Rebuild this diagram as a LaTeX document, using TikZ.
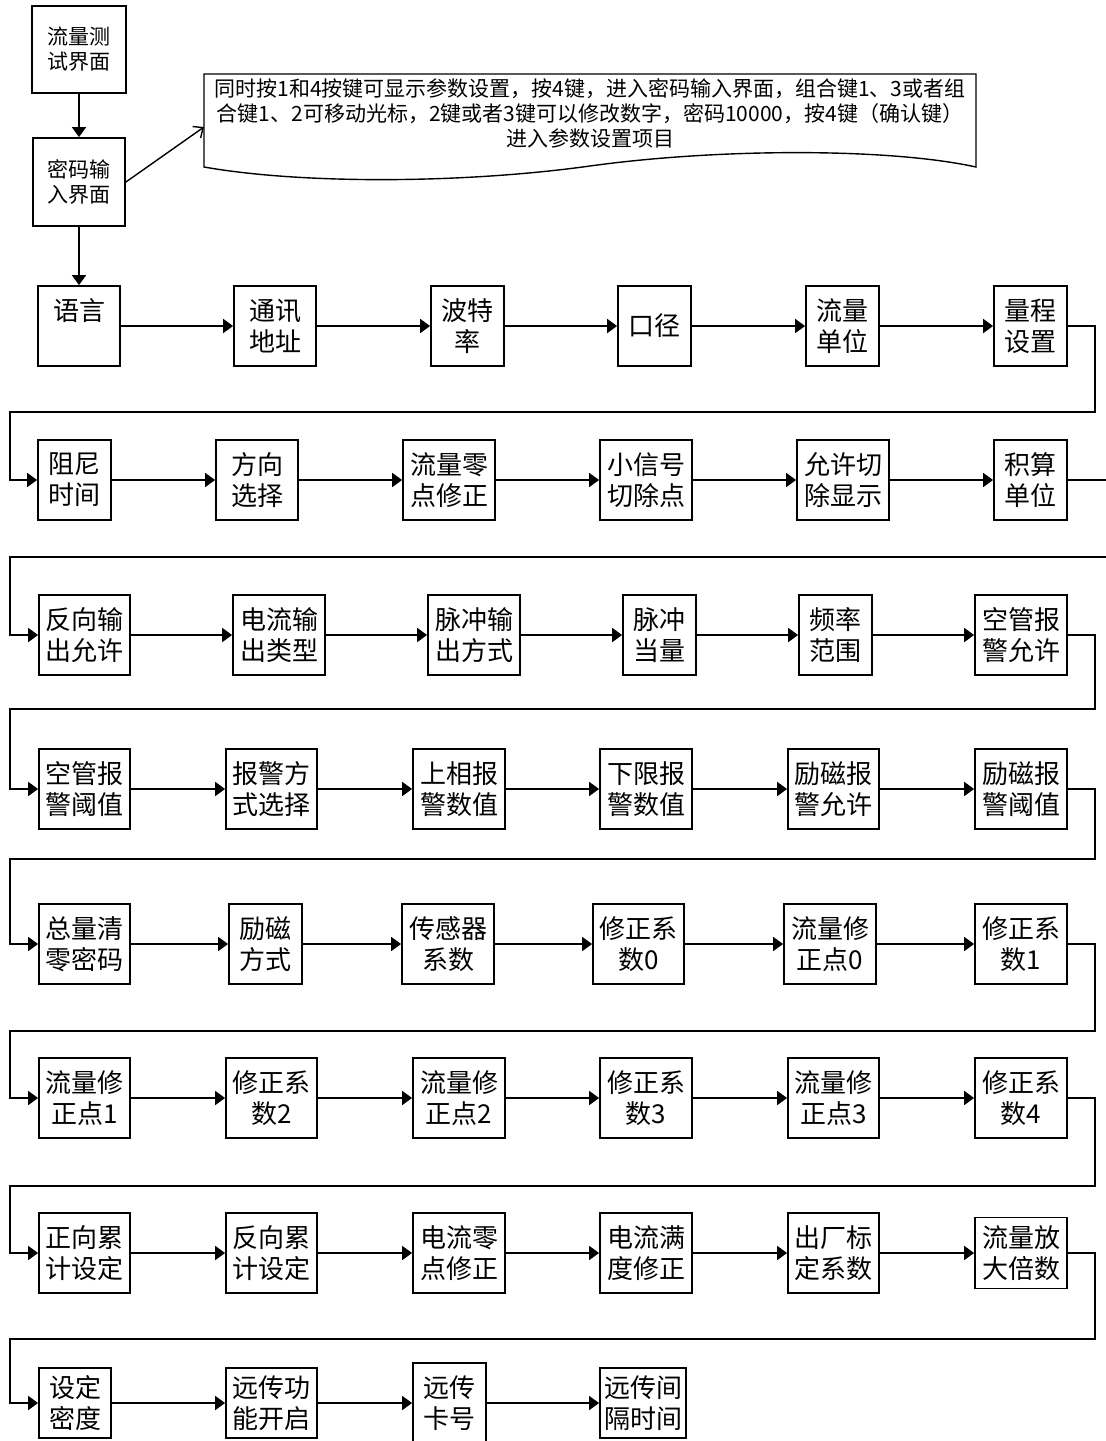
\documentclass[tikz,border=0pt]{standalone}
\usepackage{fontspec}
\setmainfont{Noto Sans CJK SC}
\usetikzlibrary{arrows.meta}
\tikzset{
  bx/.style={draw, line width=1.8pt, inner sep=0pt, align=center,
    font=\fontsize{26}{31}\selectfont, minimum height=80pt},
  topbx/.style={bx, font=\fontsize{21}{25}\selectfont},
  conn/.style={line width=1.8pt, -{Triangle[length=10pt,width=14pt]}},
  wire/.style={line width=1.8pt},
  notearr/.style={line width=1.4pt, -{Straight Barb[length=8pt,width=14pt]}},
}
\begin{document}
\begin{tikzpicture}[x=1pt,y=-1pt]
\useasboundingbox (0,0) rectangle (1106,1441);
\clip (0,0) rectangle (1106,1441);
\fill[white] (0,0) rectangle (1106,1441);

% top boxes
\node[topbx, minimum width=94pt, minimum height=87pt] (t1) at (79,49.5) {流量测\\试界面};
\node[topbx, minimum width=92pt, minimum height=88pt] (t2) at (79,182) {密码输\\入界面};

% note
\draw[line width=1.4pt] (204,74) -- (976,74) -- (976,167)
  .. controls (890,148) and (720,148) .. (590,166)
  .. controls (460,184) and (300,184) .. (204,167) -- cycle;
\node[align=center, inner sep=0pt, font=\fontsize{21}{25}\selectfont] (note) at (590,113)
  {同时按1和4按键可显示参数设置，按4键，进入密码输入界面，组合键1、3或者组\\
   合键1、2可移动光标，2键或者3键可以修改数字，密码10000，按4键（确认键）\\
   进入参数设置项目};
\coordinate (noteL) at (204,127);

% row 1
\node[bx, minimum width=82pt] (b11) at (79,326) {语言\\\phantom{语言}};
\node[bx, minimum width=82pt] (b12) at (275,326) {通讯\\地址};
\node[bx, minimum width=73pt] (b13) at (467.5,326) {波特\\率};
\node[bx, minimum width=73pt] (b14) at (654.5,326) {口径};
\node[bx, minimum width=73pt] (b15) at (842.5,326) {流量\\单位};
\node[bx, minimum width=73pt] (b16) at (1030.5,326) {量程\\设置};
% row 2
\node[bx, minimum width=73pt] (b21) at (74.5,480) {阻尼\\时间};
\node[bx, minimum width=82pt] (b22) at (257,480) {方向\\选择};
\node[bx, minimum width=92pt] (b23) at (449,480) {流量零\\点修正};
\node[bx, minimum width=92pt] (b24) at (646,480) {小信号\\切除点};
\node[bx, minimum width=92pt] (b25) at (843,480) {允许切\\除显示};
\node[bx, minimum width=73pt] (b26) at (1030.5,480) {积算\\单位};
% row 3
\node[bx, minimum width=91pt] (b31) at (84.5,635) {反向输\\出允许};
\node[bx, minimum width=92pt] (b32) at (279,635) {电流输\\出类型};
\node[bx, minimum width=92pt] (b33) at (474,635) {脉冲输\\出方式};
\node[bx, minimum width=73pt] (b34) at (659.5,635) {脉冲\\当量};
\node[bx, minimum width=73pt] (b35) at (835.5,635) {频率\\范围};
\node[bx, minimum width=92pt] (b36) at (1021,635) {空管报\\警允许};
% row 4
\node[bx, minimum width=91pt] (b41) at (84.5,789) {空管报\\警阈值};
\node[bx, minimum width=91pt] (b42) at (271.5,789) {报警方\\式选择};
\node[bx, minimum width=92pt] (b43) at (459,789) {上相报\\警数值};
\node[bx, minimum width=92pt] (b44) at (646,789) {下限报\\警数值};
\node[bx, minimum width=91pt] (b45) at (833.5,789) {励磁报\\警允许};
\node[bx, minimum width=92pt] (b46) at (1021,789) {励磁报\\警阈值};
% row 5
\node[bx, minimum width=91pt] (b51) at (84.5,944) {总量清\\零密码};
\node[bx, minimum width=73pt] (b52) at (265.5,944) {励磁\\方式};
\node[bx, minimum width=92pt] (b53) at (448,944) {传感器\\系数};
\node[bx, minimum width=91pt] (b54) at (638.5,944) {修正系\\数0};
\node[bx, minimum width=92pt] (b55) at (830,944) {流量修\\正点0};
\node[bx, minimum width=92pt] (b56) at (1021,944) {修正系\\数1};
% row 6
\node[bx, minimum width=91pt] (b61) at (84.5,1098) {流量修\\正点1};
\node[bx, minimum width=91pt] (b62) at (271.5,1098) {修正系\\数2};
\node[bx, minimum width=92pt] (b63) at (459,1098) {流量修\\正点2};
\node[bx, minimum width=92pt] (b64) at (646,1098) {修正系\\数3};
\node[bx, minimum width=91pt] (b65) at (833.5,1098) {流量修\\正点3};
\node[bx, minimum width=92pt] (b66) at (1021,1098) {修正系\\数4};
% row 7
\node[bx, minimum width=91pt] (b71) at (84.5,1253) {正向累\\计设定};
\node[bx, minimum width=91pt] (b72) at (271.5,1253) {反向累\\计设定};
\node[bx, minimum width=92pt] (b73) at (459,1253) {电流零\\点修正};
\node[bx, minimum width=92pt] (b74) at (646,1253) {电流满\\度修正};
\node[bx, minimum width=91pt] (b75) at (833.5,1253) {出厂标\\定系数};
\node[bx, minimum width=92pt, minimum height=71pt] (b76) at (1021,1253) {流量放\\大倍数};
% row 8
\node[bx, minimum width=72pt, minimum height=70pt] (b81) at (75,1403) {设定\\密度};
\node[bx, minimum width=91pt, minimum height=70pt] (b82) at (271.5,1403) {远传功\\能开启};
\node[bx, minimum width=73pt, minimum height=80pt] (b83) at (449.5,1403) {远传\\卡号};
\node[bx, minimum width=86pt, minimum height=70pt] (b84) at (643,1403) {远传间\\隔时间};

% top connectors
\draw[conn] (t1) -- (t2);
\draw[conn] (t2) -- (b11);
\draw[notearr] (t2.east) -- (noteL);

% row connectors
\foreach \r in {1,...,7}{
  \foreach \a/\b in {1/2,2/3,3/4,4/5,5/6}{
    \draw[conn] (b\r\a) -- (b\r\b);
  }
}
\draw[conn] (b81) -- (b82);
\draw[conn] (b82) -- (b83);
\draw[conn] (b83) -- (b84);

% wraps
\draw[conn] (b16.east) -| (1095,412) -| (10,480) -- (b21.west);
\draw[conn] (b26.east) -| (1112,557) -| (10,635) -- (b31.west);
\draw[conn] (b36.east) -| (1095,709) -| (10,789) -- (b41.west);
\draw[conn] (b46.east) -| (1095,859) -| (10,944) -- (b51.west);
\draw[conn] (b56.east) -| (1095,1031) -| (10,1098) -- (b61.west);
\draw[conn] (b66.east) -| (1095,1186) -| (10,1253) -- (b71.west);
\draw[conn] (b76.east) -| (1095,1339) -| (10,1403) -- (b81.west);
\end{tikzpicture}
\end{document}
